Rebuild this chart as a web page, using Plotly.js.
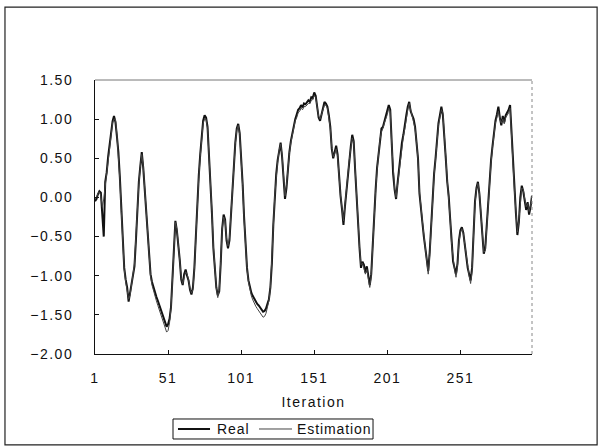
<!DOCTYPE html>
<html>
<head>
<meta charset="utf-8">
<script src="https://cdn.plot.ly/plotly-3.0.1.min.js"></script>
<style>
  html, body { margin: 0; padding: 0; background: #fff; }
  #chart { width: 601px; height: 448px; }
  .xtick text, .ytick text, .xtitle { letter-spacing: 1.5px; }
  .annotation-text { letter-spacing: 0.9px; }
</style>
</head>
<body>
<div id="chart"></div>
<script>
// Real signal, iterations 1..300
const real = [
  -0.05, -0.02, 0.04, 0.08, 0.06, -0.20, -0.50, 0.20, 0.32, 0.52,
  0.70, 0.88, 0.97, 1.04, 0.96, 0.78, 0.58, 0.26, -0.15, -0.58,
  -0.90, -1.05, -1.15, -1.33, -1.22, -1.10, -1.02, -0.88, -0.55, -0.10,
  0.20, 0.40, 0.58, 0.38, 0.10, -0.20, -0.52, -0.78, -0.98, -1.08,
  -1.15, -1.20, -1.27, -1.32, -1.38, -1.44, -1.50, -1.56, -1.62, -1.65,
  -1.62, -1.55, -1.40, -1.00, -0.50, -0.30, -0.42, -0.58, -0.80, -1.05,
  -1.12, -0.98, -0.92, -1.00, -1.06, -1.18, -1.24, -1.15, -0.90, -0.50,
  0.00, 0.28, 0.55, 0.82, 0.98, 1.05, 1.02, 0.90, 0.58, 0.18,
  -0.20, -0.65, -0.98, -1.15, -1.25, -1.20, -0.85, -0.40, -0.22, -0.28,
  -0.55, -0.65, -0.55, -0.20, 0.15, 0.45, 0.70, 0.88, 0.94, 0.82,
  0.55, 0.18, -0.25, -0.62, -0.90, -1.06, -1.15, -1.22, -1.26, -1.30,
  -1.33, -1.36, -1.38, -1.41, -1.44, -1.46, -1.45, -1.42, -1.36, -1.30,
  -1.15, -0.85, -0.35, 0.05, 0.30, 0.48, 0.62, 0.70, 0.52, 0.20,
  -0.02, 0.12, 0.40, 0.58, 0.72, 0.82, 0.92, 1.00, 1.06, 1.12,
  1.14, 1.18, 1.15, 1.20, 1.19, 1.22, 1.24, 1.22, 1.28, 1.27,
  1.34, 1.30, 1.18, 1.02, 0.98, 1.06, 1.14, 1.22, 1.20, 1.16,
  1.05, 0.90, 0.62, 0.50, 0.58, 0.66, 0.55, 0.25, 0.02, -0.15,
  -0.35, -0.12, 0.10, 0.30, 0.50, 0.65, 0.80, 0.72, 0.35, -0.05,
  -0.40, -0.65, -0.90, -0.82, -0.86, -0.96, -0.88, -1.02, -1.12, -0.98,
  -0.55, -0.15, 0.10, 0.38, 0.58, 0.78, 0.88, 0.90, 0.97, 1.02,
  1.10, 1.18, 1.12, 0.65, 0.30, 0.10, -0.02, 0.18, 0.38, 0.55,
  0.70, 0.80, 0.90, 1.05, 1.16, 1.22, 1.10, 1.05, 1.00, 0.90,
  0.70, 0.50, 0.05, -0.18, -0.32, -0.50, -0.65, -0.83, -0.94, -0.70,
  -0.35, 0.05, 0.30, 0.50, 0.75, 0.95, 1.05, 1.16, 1.05, 0.82,
  0.50, 0.20, 0.02, -0.27, -0.62, -0.82, -0.90, -0.98, -0.85, -0.55,
  -0.42, -0.38, -0.45, -0.62, -0.78, -0.90, -0.98, -1.06, -0.90, -0.45,
  -0.05, 0.12, 0.20, 0.05, -0.22, -0.48, -0.72, -0.65, -0.35, -0.05,
  0.22, 0.48, 0.66, 0.85, 0.98, 1.06, 1.16, 1.02, 0.92, 1.04,
  0.96, 1.05, 1.08, 1.12, 1.18, 0.82, 0.38, 0.05, -0.20, -0.48,
  -0.32, 0.00, 0.15, 0.08, -0.05, -0.16, -0.06, -0.22, -0.12, 0.02
];

// Estimated signal, iterations 1..300
const estimation = [
  -0.02, 0.00, 0.05, 0.07, 0.02, -0.12, -0.02, 0.15, 0.30, 0.48,
  0.68, 0.85, 0.95, 1.00, 1.00, 0.80, 0.55, 0.22, -0.18, -0.60,
  -0.92, -1.08, -1.18, -1.30, -1.25, -1.12, -1.00, -0.85, -0.50, -0.12,
  0.18, 0.38, 0.55, 0.40, 0.12, -0.18, -0.50, -0.80, -1.00, -1.12,
  -1.20, -1.26, -1.32, -1.38, -1.44, -1.50, -1.56, -1.62, -1.68, -1.72,
  -1.70, -1.60, -1.42, -1.02, -0.52, -0.32, -0.40, -0.60, -0.82, -1.02,
  -1.10, -1.00, -0.95, -0.98, -1.05, -1.16, -1.22, -1.18, -0.92, -0.52,
  -0.02, 0.25, 0.52, 0.80, 0.95, 1.00, 1.00, 0.88, 0.56, 0.20,
  -0.18, -0.62, -0.95, -1.15, -1.28, -1.18, -0.82, -0.42, -0.25, -0.30,
  -0.52, -0.62, -0.52, -0.18, 0.12, 0.42, 0.68, 0.86, 0.92, 0.80,
  0.52, 0.15, -0.28, -0.64, -0.92, -1.08, -1.18, -1.26, -1.31, -1.36,
  -1.39, -1.42, -1.45, -1.48, -1.51, -1.53, -1.52, -1.48, -1.40, -1.32,
  -1.16, -0.84, -0.38, 0.02, 0.28, 0.46, 0.60, 0.68, 0.54, 0.22,
  0.02, 0.15, 0.38, 0.56, 0.70, 0.80, 0.90, 0.98, 1.02, 1.08,
  1.10, 1.14, 1.12, 1.16, 1.16, 1.18, 1.20, 1.20, 1.24, 1.25,
  1.30, 1.28, 1.16, 1.04, 1.00, 1.05, 1.12, 1.18, 1.18, 1.14,
  1.02, 0.88, 0.64, 0.52, 0.56, 0.62, 0.52, 0.24, 0.02, -0.14,
  -0.30, -0.10, 0.12, 0.30, 0.48, 0.62, 0.76, 0.70, 0.36, -0.02,
  -0.38, -0.64, -0.86, -0.84, -0.90, -0.98, -0.92, -1.06, -1.15, -1.00,
  -0.58, -0.18, 0.08, 0.35, 0.55, 0.74, 0.84, 0.88, 0.95, 1.00,
  1.06, 1.14, 1.10, 0.68, 0.32, 0.12, 0.00, 0.16, 0.36, 0.52,
  0.66, 0.78, 0.88, 1.02, 1.12, 1.20, 1.12, 1.04, 0.98, 0.88,
  0.70, 0.48, 0.08, -0.15, -0.30, -0.48, -0.66, -0.85, -0.98, -0.74,
  -0.38, 0.02, 0.28, 0.48, 0.72, 0.92, 1.02, 1.12, 1.08, 0.85,
  0.52, 0.22, 0.00, -0.28, -0.60, -0.80, -0.92, -1.02, -0.88, -0.58,
  -0.45, -0.40, -0.46, -0.60, -0.76, -0.90, -1.00, -1.10, -0.94, -0.48,
  -0.08, 0.10, 0.18, 0.06, -0.20, -0.46, -0.70, -0.68, -0.38, -0.08,
  0.20, 0.45, 0.64, 0.82, 0.95, 1.02, 1.10, 1.00, 0.95, 1.00,
  0.94, 1.02, 1.05, 1.08, 1.14, 0.85, 0.42, 0.08, -0.18, -0.44,
  -0.30, -0.02, 0.12, 0.10, -0.02, -0.12, -0.08, -0.18, -0.10, 0.00
];

// Category axis labels shown every 50 iterations
const xTickLabels = [1, 51, 101, 151, 201, 251];

// Series names and their line styles
const seriesNames = ['Real', 'Estimation'];
const seriesLines = [
  { color: '#111', width: 2 },
  { color: '#444', width: 1 }
];

const iterations = real.map((_, k) => k + 1);

const font = { family: 'Liberation Sans, Arial, sans-serif', size: 14, color: '#111' };

const traces = [real, estimation].map((vals, k) => ({
  x: iterations, y: vals, name: seriesNames[k], type: 'scatter', mode: 'lines',
  line: seriesLines[k]
}));

// Boxed legend below the axis title, in paper units
const legendBox = { x0: 0.1785, x1: 0.6362, y0: -0.3102, y1: -0.2372 };
const legendRowY = -0.2737;
const legendItems = [
  { lineX0: 0.1899, lineX1: 0.2632, textX: 0.2746 },
  { lineX0: 0.3753, lineX1: 0.4508, textX: 0.4580 }
];

const shapes = [
  // outer chart frame
  { type: 'rect', xref: 'paper', yref: 'paper', x0: -0.206, x1: 1.149, y0: -0.332, y1: 1.266,
    line: { color: '#222', width: 1.2 } },
  // plot area top and right edges
  { type: 'line', xref: 'paper', yref: 'paper', x0: 0, x1: 1, y0: 1, y1: 1,
    line: { color: '#777', width: 1 } },
  { type: 'line', xref: 'paper', yref: 'paper', x0: 1, x1: 1, y0: 0, y1: 1,
    line: { color: '#888', width: 1, dash: 'dot' } },
  // legend frame
  { type: 'rect', xref: 'paper', yref: 'paper', ...legendBox,
    line: { color: '#111', width: 1 }, fillcolor: '#fff' }
];
const annotations = [];
legendItems.forEach((it, k) => {
  shapes.push({ type: 'line', xref: 'paper', yref: 'paper',
    x0: it.lineX0, x1: it.lineX1, y0: legendRowY, y1: legendRowY,
    line: { color: seriesLines[k].color, width: seriesLines[k].width } });
  annotations.push({ xref: 'paper', yref: 'paper', x: it.textX, y: legendRowY,
    xanchor: 'left', yanchor: 'middle', showarrow: false,
    text: seriesNames[k], font: font });
});

const layout = {
  width: 601, height: 448,
  margin: { l: 95, r: 69, t: 80, b: 94, autoexpand: false },
  paper_bgcolor: '#fff', plot_bgcolor: '#fff',
  font: font,
  showlegend: false,
  xaxis: {
    range: [1, 300], tickvals: xTickLabels, ticktext: xTickLabels.map(String),
    ticks: 'inside', ticklen: 4, tickcolor: '#111', tickwidth: 1,
    showline: true, linecolor: '#111', linewidth: 1,
    showgrid: false, zeroline: false, tickfont: font, ticklabelstandoff: 11,
    title: { text: 'Iteration', font: font, standoff: 12 }
  },
  yaxis: {
    range: [-2, 1.5], tick0: 0, dtick: 0.5, tickformat: '.2f',
    ticks: 'inside', ticklen: 4, tickcolor: '#111', tickwidth: 1,
    showline: true, linecolor: '#111', linewidth: 1,
    showgrid: false, zeroline: false, tickfont: font, ticklabelstandoff: 18
  },
  shapes: shapes,
  annotations: annotations
};

Plotly.newPlot('chart', traces, layout, { displayModeBar: false, staticPlot: true });
</script>
</body>
</html>
